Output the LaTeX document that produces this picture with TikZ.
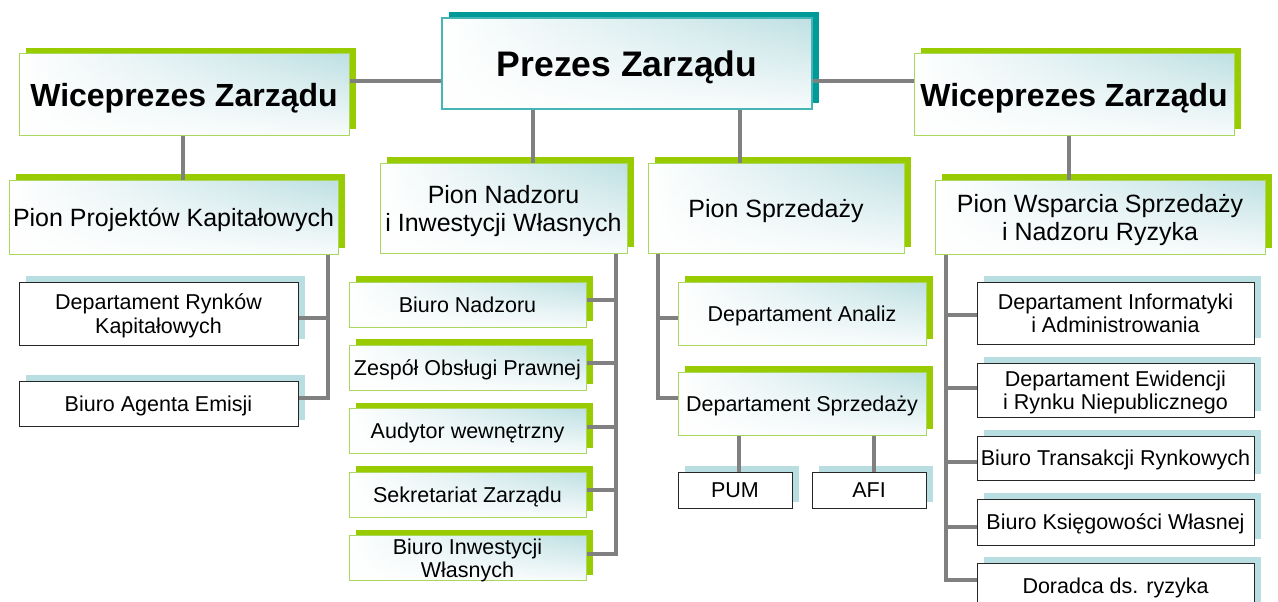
\documentclass[tikz,border=0pt]{standalone}
\usepackage{fontspec}
\setmainfont{Liberation Sans}
\usetikzlibrary{shadows,fadings}

\definecolor{leafgreen}{HTML}{99CC00}
\definecolor{leafline}{HTML}{AAD75E}
\definecolor{seateal}{HTML}{009A98}
\definecolor{sealine}{HTML}{45B5B5}
\definecolor{mist}{HTML}{BEE0E3}
\definecolor{mistshadow}{HTML}{B8DEE1}
\definecolor{linkgray}{HTML}{808080}

\tikzfading[name=fade bottom, top color=transparent!100, middle color=transparent!80, bottom color=transparent!10]

\tikzset{
	unit/.style={rectangle, inner sep=0pt, align=center, text depth=0pt},
	greenshadow/.style={drop shadow={shadow xshift=7pt, shadow yshift=6pt, fill=leafgreen, opacity=1}},
	tealshadow/.style={drop shadow={shadow xshift=7pt, shadow yshift=6pt, fill=seateal, opacity=1}},
	mistshadowed/.style={drop shadow={shadow xshift=7pt, shadow yshift=6pt, fill=mistshadow, opacity=1}},
	mistfill/.style={preaction={left color=white, right color=mist}, preaction={fill=white, path fading=fade bottom}},
	vpbox/.style={unit, greenshadow, mistfill, draw=leafline, line width=1, font=\fontsize{32}{36}\selectfont\bfseries},
	ceobox/.style={unit, tealshadow, mistfill, draw=sealine, line width=1.2, font=\fontsize{35.5}{40}\selectfont\bfseries},
	pionbox/.style={unit, greenshadow, mistfill, draw=leafline, line width=1, font=\fontsize{25}{28}\selectfont},
	deptbox/.style={unit, greenshadow, mistfill, draw=leafline, line width=1, font=\fontsize{21.5}{23.5}\selectfont},
	plainbox/.style={unit, mistshadowed, fill=white, draw=black!85, line width=1, font=\fontsize{21.5}{23.5}\selectfont},
	link/.style={draw=linkgray, line width=4}
}

\begin{document}
\begin{tikzpicture}[x=1pt,y=-1pt]
	\path[use as bounding box, clip] (0,0) rectangle (1278,602);

	% board
	\node[ceobox, minimum width=370, minimum height=91] (ceo) at (627,63.5) {Prezes Zarządu};
	\node[vpbox, minimum width=330, minimum height=81] (wpL) at (184,94.5) {Wiceprezes Zarządu};
	\node[vpbox, minimum width=320, minimum height=81] (wpR) at (1074,94.5) {Wiceprezes Zarządu};

	% divisions
	\node[pionbox, minimum width=329, minimum height=74] (pionP) at (173.5,217) {Pion Projektów Kapitałowych};
	\node[pionbox, minimum width=247, minimum height=90] (pionN) at (503.5,208) {Pion Nadzoru\\i Inwestycji Własnych};
	\node[pionbox, minimum width=256, minimum height=90] (pionS) at (776,208) {Pion Sprzedaży};
	\node[pionbox, minimum width=330, minimum height=74] (pionW) at (1100,217) {Pion Wsparcia Sprzedaży\\i Nadzoru Ryzyka};

	% Pion Projektow Kapitalowych
	\node[plainbox, minimum width=279, minimum height=63] (drk) at (158.5,313.5) {Departament Rynków\\Kapitałowych};
	\node[plainbox, minimum width=279, minimum height=45] (bae) at (158.5,403.5) {Biuro Agenta Emisji};

	% Pion Nadzoru
	\node[deptbox, minimum width=237, minimum height=45] (bNad) at (467.5,304.5) {Biuro Nadzoru};
	\node[deptbox, minimum width=237, minimum height=45] (zesp) at (467.5,367.5) {Zespół Obsługi Prawnej};
	\node[deptbox, minimum width=237, minimum height=45] (audyt) at (467.5,431) {Audytor wewnętrzny};
	\node[deptbox, minimum width=237, minimum height=45] (sekr) at (467.5,494.5) {Sekretariat Zarządu};
	\node[deptbox, minimum width=237, minimum height=45] (bInw) at (467.5,558) {Biuro Inwestycji\\Własnych};

	% Pion Sprzedazy
	\node[deptbox, minimum width=248, minimum height=63] (dAn) at (802,313.5) {Departament Analiz};
	\node[deptbox, minimum width=248, minimum height=63] (dSp) at (802,403.5) {Departament Sprzedaży};
	\node[plainbox, minimum width=114, minimum height=36] (pum) at (735,490) {PUM};
	\node[plainbox, minimum width=114, minimum height=36] (afi) at (869,490) {AFI};

	% Pion Wsparcia
	\node[plainbox, minimum width=277, minimum height=62] (dInf) at (1115.5,313) {Departament Informatyki\\i Administrowania};
	\node[plainbox, minimum width=277, minimum height=54] (dEw) at (1115.5,390) {Departament Ewidencji\\i Rynku Niepublicznego};
	\node[plainbox, minimum width=277, minimum height=44] (bTr) at (1115.5,458) {Biuro Transakcji Rynkowych};
	\node[plainbox, minimum width=277, minimum height=46] (bKs) at (1115.5,522) {Biuro Księgowości Własnej};
	\node[plainbox, minimum width=277, minimum height=46] (dor) at (1115.5,586) {Doradca ds. ryzyka};

	% links
	\draw[link] ([yshift=13.5]wpL.east) -- ([yshift=13.5]wpL.east -| ceo.west);
	\draw[link] ([yshift=13.5]wpR.west) -- ([yshift=13.5]wpR.west -| ceo.east);
	\draw[link] (183,0 |- wpL.south) -- (183,0 |- pionP.north);
	\draw[link] (1069,0 |- wpR.south) -- (1069,0 |- pionW.north);
	\draw[link] (533,0 |- ceo.south) -- (533,0 |- pionN.north);
	\draw[link] (740,0 |- ceo.south) -- (740,0 |- pionS.north);

	\coordinate (trunkP) at (328,0);
	\draw[link] ([yshift=-4]drk.east) -- ([yshift=-4]drk.east -| trunkP);
	\draw[link] (pionP.south -| trunkP) |- ([yshift=6]bae.east);

	\coordinate (trunkN) at (616,0);
	\foreach \n in {bNad,zesp,audyt,sekr}
		\draw[link] ([yshift=4.5]\n.east) -- ([yshift=4.5]\n.east -| trunkN);
	\draw[link] (pionN.south -| trunkN) |- ([yshift=4.5]bInw.east);

	\coordinate (trunkS) at (658,0);
	\draw[link] ([yshift=-4.5]dAn.west) -- ([yshift=-4.5]dAn.west -| trunkS);
	\draw[link] (pionS.south -| trunkS) |- ([yshift=5.5]dSp.west);
	\draw[link] (739,0 |- dSp.south) -- (739,0 |- pum.north);
	\draw[link] (874,0 |- dSp.south) -- (874,0 |- afi.north);

	\coordinate (trunkW) at (946,0);
	\foreach \n/\s in {dInf/-2, dEw/2, bTr/-4, bKs/-5}
		\draw[link] ([yshift=\s]\n.west) -- ([yshift=\s]\n.west -| trunkW);
	\draw[link] (pionW.south -| trunkW) |- ([yshift=6]dor.west);
\end{tikzpicture}
\end{document}
